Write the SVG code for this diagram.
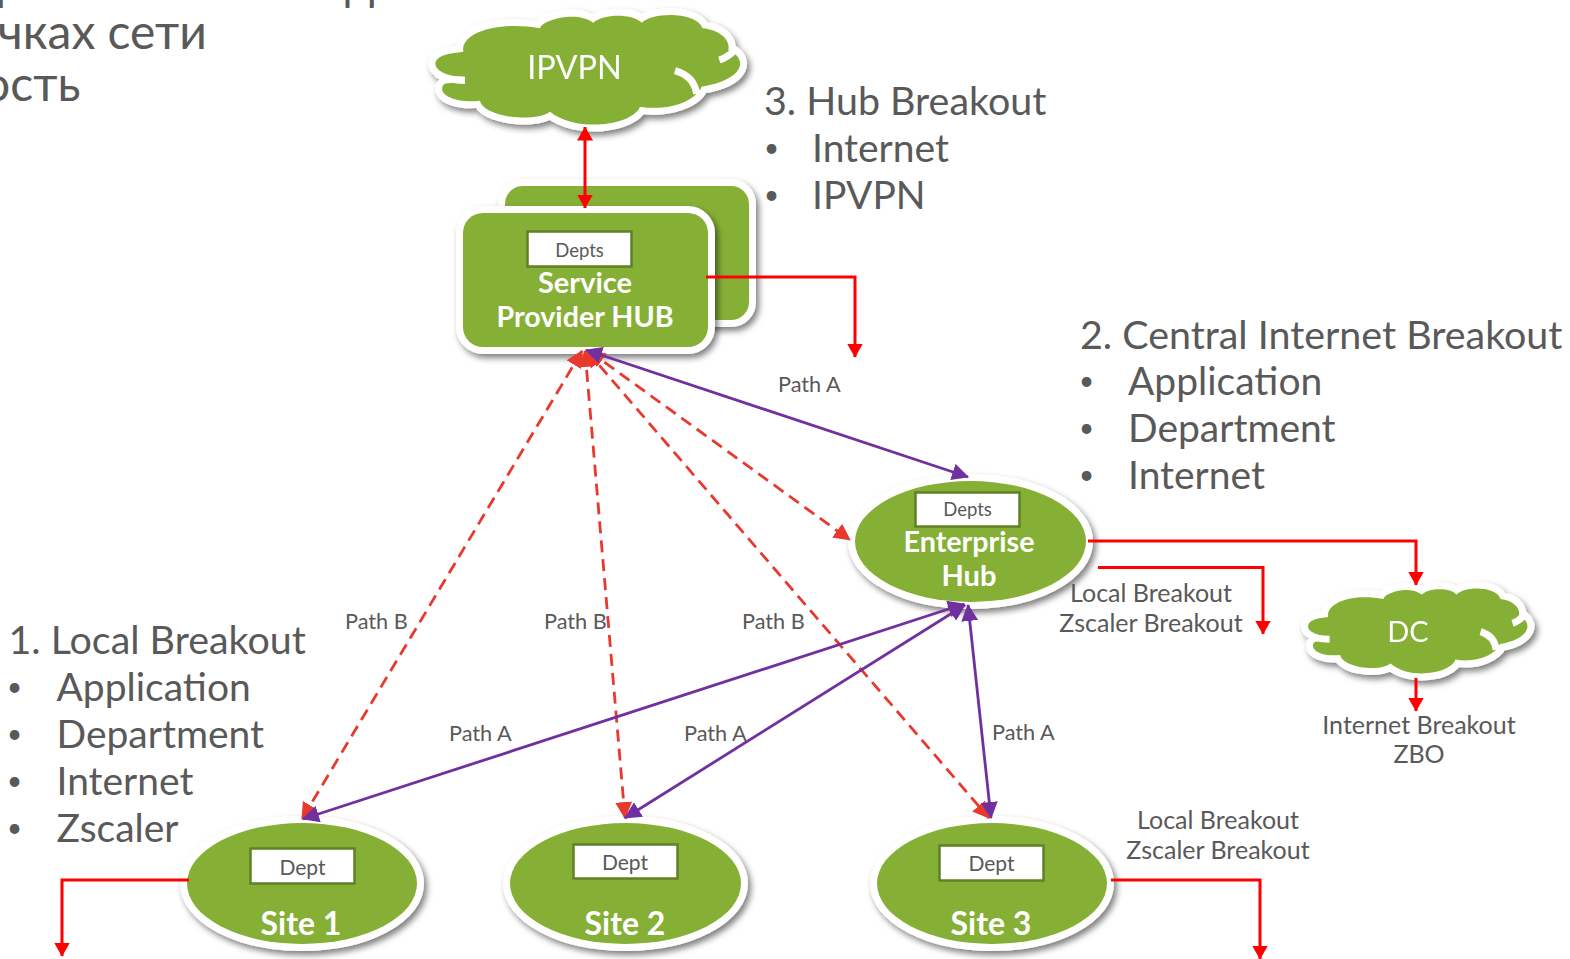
<svg xmlns="http://www.w3.org/2000/svg" xmlns:xlink="http://www.w3.org/1999/xlink" width="1570" height="959" viewBox="0 0 1570 959">
<style>
text{font-family:Lato,"Liberation Sans","Noto Sans CJK SC",sans-serif;fill:#595959}
.h{font-size:39.400px}.i{font-size:39px}.t{font-size:48px}.u{font-size:26px}.l{font-size:21.700px}.m{font-size:25px;text-anchor:middle}
.b{font-size:29px;font-weight:700;fill:#fff;text-anchor:middle}
.st{font-size:32px}
.d{font-size:18.500px;text-anchor:middle}.d2{font-size:21px;text-anchor:middle}
.sh{filter:url(#s)}
.w{fill:#85b035;stroke:#fff;stroke-width:14;paint-order:stroke}
.box{fill:#fff;stroke:#5f8025;stroke-width:2.5}
.r{fill:none;stroke:#f00;stroke-width:3}
.p{fill:none;stroke:#7030a0;stroke-width:2.8}
.q{fill:none;stroke:#e8392c;stroke-width:2.8;stroke-dasharray:12 7}
.n{fill:none;stroke:#fff;stroke-width:7;vector-effect:non-scaling-stroke}
.c{fill:#85b035;stroke:#fff;stroke-width:14;paint-order:stroke}
</style>
<defs>
<filter id="s" x="-10%" y="-15%" width="125%" height="135%"><feDropShadow dx="3" dy="4" stdDeviation="3" flood-color="#000" flood-opacity=".5"/></filter>
<path id="cl" vector-effect="non-scaling-stroke" d="M130,155C120,100 230,62 360,85C365,60 470,30 520,68C550,40 640,40 665,68C700,35 830,35 848,85C900,90 932,120 925,150C985,175 975,240 845,260C830,300 750,335 660,320C640,375 470,400 390,335C340,370 190,350 180,302C120,310 55,290 68,258C75,245 100,250 135,252L135,230C90,232 45,215 46,190C48,170 80,160 110,158Z"/>
<marker id="ar" viewBox="0 0 14 16" refX="13.500" refY="8" markerWidth="14" markerHeight="16" markerUnits="userSpaceOnUse" orient="auto-start-reverse"><path d="M0,0L14,8L0,16Z" fill="#f00"/></marker>
<marker id="ap" viewBox="0 0 16 16" refX="15" refY="8" markerWidth="17" markerHeight="17" markerUnits="userSpaceOnUse" orient="auto-start-reverse"><path d="M0,0L16,8L0,16Z" fill="#7030a0"/></marker>
<marker id="aq" viewBox="0 0 16 16" refX="15" refY="8" markerWidth="17" markerHeight="17" markerUnits="userSpaceOnUse" orient="auto-start-reverse"><path d="M0,0L16,8L0,16Z" fill="#e8392c"/></marker>
</defs>

<g id="title">
<text class="t" x="-5" y="0">р</text>
<text class="t" x="345" y="0">д</text>
<text class="t" x="-2" y="49">чках сети</text>
<text class="t" x="-17" y="101">ость</text>
</g>

<g id="ipvpn" class="sh">
<g transform="translate(420,0) scale(.3333)"><use xlink:href="#cl" class="c"/>
<path class="n" d="M135,241C100,241 70,236 50,222M765,212C800,222 825,245 830,282M898,180C915,175 930,165 945,150"/></g>
<text class="b" style="font-size:32.500px;font-weight:400" x="574.500" y="79">IPVPN</text>
</g>

<g id="sp-hub">
<rect class="w sh" x="505" y="186" width="244" height="134" rx="18"/>
<rect class="w sh" x="463" y="213" width="245" height="134" rx="20"/>
<rect class="box" x="527.500" y="231.500" width="104" height="35"/>
<text class="d" x="579.500" y="257">Depts</text>
<text class="b" x="585" y="293">Service</text>
<text class="b" style="font-size:28.700px" x="585" y="327">Provider HUB</text>
</g>

<g id="enterprise-hub">
<ellipse class="w sh" cx="970.500" cy="541.500" rx="115.500" ry="60.500"/>
<rect class="box" x="915.500" y="492.500" width="104" height="34"/>
<text class="d" x="967.500" y="516">Depts</text>
<text class="b" style="font-size:28.700px" x="969" y="552">Enterprise</text>
<text class="b" x="969" y="586">Hub</text>
</g>

<g id="dc" class="sh">
<g transform="translate(1297,577) scale(.24,.258)"><use xlink:href="#cl" class="c"/>
<path class="n" d="M135,241C100,241 70,236 50,222M765,212C800,222 825,245 830,282M898,180C915,175 930,165 945,150"/></g>
<text class="b" style="font-size:29px;font-weight:400" x="1408" y="642">DC</text>
</g>

<g id="site1">
<ellipse class="w sh" cx="302" cy="883.500" rx="115" ry="60.500"/>
<rect class="box" x="250.500" y="848.500" width="104" height="35"/>
<text class="d2" x="302.500" y="875">Dept</text>
<text class="b st" x="301" y="935">Site 1</text>
</g>
<g id="site2">
<ellipse class="w sh" cx="625.500" cy="883.500" rx="115.500" ry="60.500"/>
<rect class="box" x="573.500" y="844.500" width="104" height="34"/>
<text class="d2" x="625" y="870">Dept</text>
<text class="b st" x="625" y="935">Site 2</text>
</g>
<g id="site3">
<ellipse class="w sh" cx="992" cy="883.500" rx="115" ry="60.500"/>
<rect class="box" x="939.500" y="845.500" width="104" height="35"/>
<text class="d2" x="991.500" y="871">Dept</text>
<text class="b st" x="991" y="935">Site 3</text>
</g>

<g id="connectors">
<path class="r" d="M585,127V208" marker-start="url(#ar)" marker-end="url(#ar)"/>
<path class="r" d="M706,277H855V357" marker-end="url(#ar)"/>
<path class="r" d="M1088,541H1416V585" marker-end="url(#ar)"/>
<path class="r" d="M1098,567.500H1263V634" marker-end="url(#ar)"/>
<path class="r" d="M1416,678V711" marker-end="url(#ar)"/>
<path class="r" d="M189,880H62V956" marker-end="url(#ar)"/>
<path class="r" d="M1111,880H1260V959" marker-end="url(#ar)"/>
<path class="q" d="M582,351L302,819" marker-start="url(#aq)" marker-end="url(#aq)"/>
<path class="q" d="M585,351L625,818" marker-start="url(#aq)" marker-end="url(#aq)"/>
<path class="q" d="M587,351L989,818" marker-start="url(#aq)" marker-end="url(#aq)"/>
<path class="q" d="M589,351L850,540" marker-start="url(#aq)" marker-end="url(#aq)"/>
<path class="p" d="M586,350L968,477" marker-start="url(#ap)" marker-end="url(#ap)"/>
<path class="p" d="M964,604L303,819" marker-start="url(#ap)" marker-end="url(#ap)"/>
<path class="p" d="M965,605L625,818" marker-start="url(#ap)" marker-end="url(#ap)"/>
<path class="p" d="M968,605L991,818" marker-start="url(#ap)" marker-end="url(#ap)"/>
</g>

<g id="labels">
<text class="l" x="778" y="392">Path A</text>
<text class="l" x="345" y="629">Path B</text>
<text class="l" x="544" y="629">Path B</text>
<text class="l" x="742" y="629">Path B</text>
<text class="l" x="449" y="741">Path A</text>
<text class="l" x="684" y="741">Path A</text>
<text class="l" x="992" y="740">Path A</text>
<text class="m" x="1151" y="602">Local Breakout</text>
<text class="m" x="1151" y="632">Zscaler Breakout</text>
<text class="m" x="1218" y="829">Local Breakout</text>
<text class="m" x="1218" y="859">Zscaler Breakout</text>
<text class="m" x="1419" y="734">Internet Breakout</text>
<text class="m" x="1419" y="763">ZBO</text>
</g>

<g id="list3">
<text class="h" x="764" y="115">3. Hub Breakout</text>
<text class="u" x="764" y="157">•</text><text class="i" x="812" y="162">Internet</text>
<text class="u" x="764" y="204">•</text><text class="i" x="812" y="209">IPVPN</text>
</g>
<g id="list2">
<text class="h" x="1080" y="349">2. Central Internet Breakout</text>
<text class="u" x="1079" y="390">•</text><text class="i" x="1128" y="395">Application</text>
<text class="u" x="1079" y="437">•</text><text class="i" x="1128" y="442">Department</text>
<text class="u" x="1079" y="484">•</text><text class="i" x="1128" y="489">Internet</text>
</g>
<g id="list1">
<text class="h" x="8.500" y="654">1. Local Breakout</text>
<text class="u" x="7" y="696">•</text><text class="i" x="56.500" y="701">Application</text>
<text class="u" x="7" y="743">•</text><text class="i" x="56.500" y="748">Department</text>
<text class="u" x="7" y="790">•</text><text class="i" x="56.500" y="795">Internet</text>
<text class="u" x="7" y="837">•</text><text class="i" x="56.500" y="842">Zscaler</text>
</g>
</svg>
